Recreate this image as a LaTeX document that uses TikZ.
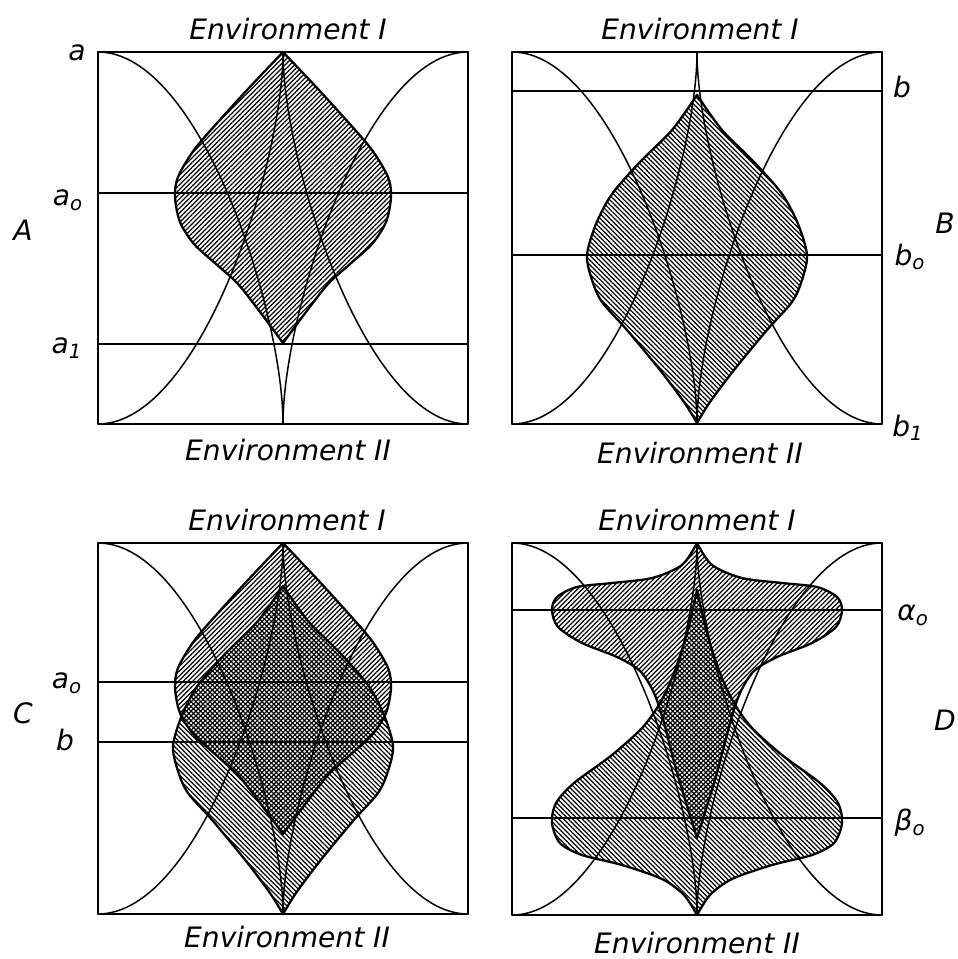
\documentclass[tikz,border=0pt]{standalone}
\usepackage{fontspec}
\setmainfont{DejaVu Sans}
\usetikzlibrary{patterns.meta}

\begin{document}
\begin{tikzpicture}[x=0.02cm,y=-0.02cm,line cap=round,line join=round,
  font=\fontsize{16}{18}\selectfont\itshape,
  frame/.style={line width=1.2pt},
  curve/.style={line width=0.85pt},
  level/.style={line width=0.85pt},
  rim/.style={line width=1.3pt},
  hatchne/.style={pattern={Lines[angle=45,distance=1.9pt,line width=0.7pt]}},
  hatchnw/.style={pattern={Lines[angle=-45,distance=1.9pt,line width=0.7pt]}},
  envtext/.style={inner sep=0pt},
  sidetext/.style={inner sep=0pt}]
\useasboundingbox (0,0) rectangle (957,959);
% panel A
\begin{scope}[shift={(98,52)}]
\fill[hatchne] plot[smooth] coordinates {(185,0) (150,37) (120,70) (96,98) (80,125) (77,145) (82,170) (96,192) (118,212) (140,232) (162,260) (185,291)}
  -- plot[smooth] coordinates {(185,291) (208,260) (230,232) (252,212) (274,192) (288,170) (293,145) (290,125) (274,98) (250,70) (220,37) (185,0)} -- cycle;
\draw[frame] (0,0) rectangle (370,372);
\draw[level] (0,141) -- (370,141);
\draw[level] (0,292) -- (370,292);
\draw[curve] (0,0) .. controls (102,0) and (185,260) .. (185,372);
\draw[curve] (370,0) .. controls (268,0) and (185,260) .. (185,372);
\draw[curve] (0,372) .. controls (102,372) and (185,112) .. (185,0);
\draw[curve] (370,372) .. controls (268,372) and (185,112) .. (185,0);
\draw[rim] plot[smooth] coordinates {(185,0) (150,37) (120,70) (96,98) (80,125) (77,145) (82,170) (96,192) (118,212) (140,232) (162,260) (185,291)}
  -- plot[smooth] coordinates {(185,291) (208,260) (230,232) (252,212) (274,192) (288,170) (293,145) (290,125) (274,98) (250,70) (220,37) (185,0)} -- cycle;
\node[envtext] (envIa) at (190,-23) {Environment I};
\node[envtext] (envIIa) at (190,398) {Environment II};
\node[sidetext] (ta) at (-21,1) {a};
\node[sidetext] (tao) at (-30,148) {a\textsubscript{o}};
\node[sidetext] (tai) at (-31,296) {a\textsubscript{1}};
\node[sidetext] (pA) at (-75,178) {A};
\end{scope}
% panel B
\begin{scope}[shift={(512,52)}]
\fill[hatchnw] plot[smooth] coordinates {(185,43) (160,78) (128,110) (100,142) (84,172) (75,203) (80,228) (90,250) (115,278) (148,318) (172,350) (185,371)}
  -- plot[smooth] coordinates {(185,371) (198,350) (222,318) (255,278) (280,250) (290,228) (295,203) (286,172) (270,142) (242,110) (210,78) (185,43)} -- cycle;
\draw[frame] (0,0) rectangle (370,372);
\draw[level] (0,39) -- (370,39);
\draw[level] (0,203) -- (370,203);
\draw[curve] (0,0) .. controls (102,0) and (185,260) .. (185,372);
\draw[curve] (370,0) .. controls (268,0) and (185,260) .. (185,372);
\draw[curve] (0,372) .. controls (102,372) and (185,112) .. (185,0);
\draw[curve] (370,372) .. controls (268,372) and (185,112) .. (185,0);
\draw[rim] plot[smooth] coordinates {(185,43) (160,78) (128,110) (100,142) (84,172) (75,203) (80,228) (90,250) (115,278) (148,318) (172,350) (185,371)}
  -- plot[smooth] coordinates {(185,371) (198,350) (222,318) (255,278) (280,250) (290,228) (295,203) (286,172) (270,142) (242,110) (210,78) (185,43)} -- cycle;
\node[envtext] (envIb) at (188,-23) {Environment I};
\node[envtext] (envIIb) at (188,401) {Environment II};
\node[sidetext] (tb) at (390,35) {b};
\node[sidetext] (tbo) at (398,205) {b\textsubscript{o}};
\node[sidetext] (tbi) at (396,376) {b\textsubscript{1}};
\node[sidetext] (pB) at (433,171) {B};
\end{scope}
% panel C
\begin{scope}[shift={(98,543)}]
\fill[hatchne] plot[smooth] coordinates {(185,0) (150,37) (120,70) (96,98) (80,125) (77,145) (82,170) (96,192) (118,212) (140,232) (162,260) (185,291)}
  -- plot[smooth] coordinates {(185,291) (208,260) (230,232) (252,212) (274,192) (288,170) (293,145) (290,125) (274,98) (250,70) (220,37) (185,0)} -- cycle;
\fill[hatchnw] plot[smooth] coordinates {(185,43) (160,78) (128,110) (100,142) (84,172) (75,203) (80,228) (90,250) (115,278) (148,318) (172,350) (185,371)}
  -- plot[smooth] coordinates {(185,371) (198,350) (222,318) (255,278) (280,250) (290,228) (295,203) (286,172) (270,142) (242,110) (210,78) (185,43)} -- cycle;
\draw[frame] (0,0) rectangle (370,371);
\draw[level] (0,139) -- (370,139);
\draw[level] (0,199) -- (370,199);
\draw[curve] (0,0) .. controls (102,0) and (185,260) .. (185,371);
\draw[curve] (370,0) .. controls (268,0) and (185,260) .. (185,371);
\draw[curve] (0,371) .. controls (102,371) and (185,112) .. (185,0);
\draw[curve] (370,371) .. controls (268,371) and (185,112) .. (185,0);
\draw[rim] plot[smooth] coordinates {(185,0) (150,37) (120,70) (96,98) (80,125) (77,145) (82,170) (96,192) (118,212) (140,232) (162,260) (185,291)}
  -- plot[smooth] coordinates {(185,291) (208,260) (230,232) (252,212) (274,192) (288,170) (293,145) (290,125) (274,98) (250,70) (220,37) (185,0)} -- cycle;
\draw[rim] plot[smooth] coordinates {(185,43) (160,78) (128,110) (100,142) (84,172) (75,203) (80,228) (90,250) (115,278) (148,318) (172,350) (185,371)}
  -- plot[smooth] coordinates {(185,371) (198,350) (222,318) (255,278) (280,250) (290,228) (295,203) (286,172) (270,142) (242,110) (210,78) (185,43)} -- cycle;
\node[envtext] (envIc) at (189,-23) {Environment I};
\node[envtext] (envIIc) at (189,394) {Environment II};
\node[sidetext] (tco) at (-31,140) {a\textsubscript{o}};
\node[sidetext] (tcb) at (-33,197) {b};
\node[sidetext] (pC) at (-75,170) {C};
\end{scope}
% panel D
\begin{scope}[shift={(512,543)}]
\fill[hatchne] plot[smooth] coordinates {(185,0) (170,22) (140,35) (100,40) (65,44) (45,54) (40,67) (46,84) (70,100) (105,114) (128,128) (142,150) (152,180) (165,230) (185,295)}
  -- plot[smooth] coordinates {(185,295) (205,230) (218,180) (228,150) (242,128) (265,114) (300,100) (324,84) (330,67) (325,54) (305,44) (270,40) (230,35) (200,22) (185,0)} -- cycle;
\fill[hatchnw] plot[smooth] coordinates {(185,372) (172,352) (150,336) (110,322) (70,312) (48,300) (40,280) (44,260) (62,240) (100,212) (130,185) (148,160) (162,130) (175,90) (185,47)}
  -- plot[smooth] coordinates {(185,47) (195,90) (208,130) (222,160) (240,185) (270,212) (308,240) (326,260) (330,280) (322,300) (300,312) (260,322) (220,336) (198,352) (185,372)} -- cycle;
\draw[frame] (0,0) rectangle (370,372);
\draw[level] (0,67) -- (370,67);
\draw[level] (0,275) -- (370,275);
\draw[curve] (0,0) .. controls (102,0) and (185,260) .. (185,372);
\draw[curve] (370,0) .. controls (268,0) and (185,260) .. (185,372);
\draw[curve] (0,372) .. controls (102,372) and (185,112) .. (185,0);
\draw[curve] (370,372) .. controls (268,372) and (185,112) .. (185,0);
\draw[rim] plot[smooth] coordinates {(185,0) (170,22) (140,35) (100,40) (65,44) (45,54) (40,67) (46,84) (70,100) (105,114) (128,128) (142,150) (152,180) (165,230) (185,295)}
  -- plot[smooth] coordinates {(185,295) (205,230) (218,180) (228,150) (242,128) (265,114) (300,100) (324,84) (330,67) (325,54) (305,44) (270,40) (230,35) (200,22) (185,0)} -- cycle;
\draw[rim] plot[smooth] coordinates {(185,372) (172,352) (150,336) (110,322) (70,312) (48,300) (40,280) (44,260) (62,240) (100,212) (130,185) (148,160) (162,130) (175,90) (185,47)}
  -- plot[smooth] coordinates {(185,47) (195,90) (208,130) (222,160) (240,185) (270,212) (308,240) (326,260) (330,280) (322,300) (300,312) (260,322) (220,336) (198,352) (185,372)} -- cycle;
\node[envtext] (envId) at (185,-23) {Environment I};
\node[envtext] (envIId) at (185,400) {Environment II};
\node[sidetext] (tdal) at (401,72) {α\textsubscript{o}};
\node[sidetext] (tdbe) at (398,280) {β\textsubscript{o}};
\node[sidetext] (pD) at (433,177) {D};
\end{scope}
\end{tikzpicture}
\end{document}
